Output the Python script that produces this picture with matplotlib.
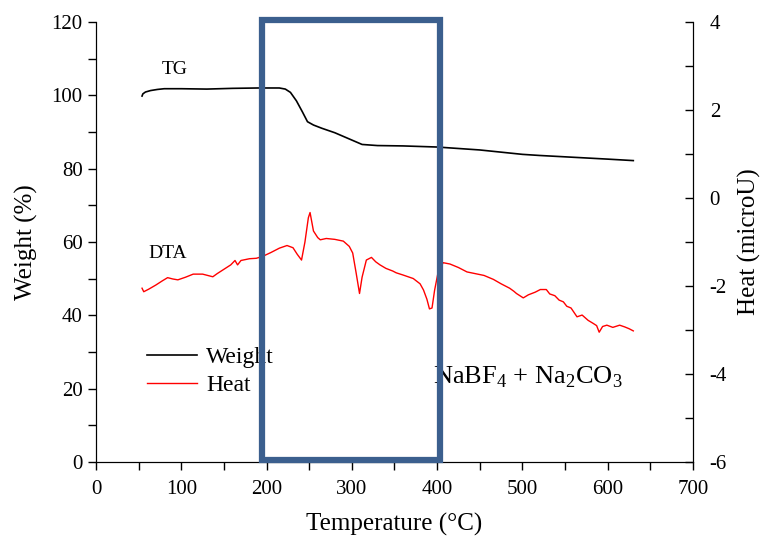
import numpy as np
import matplotlib
matplotlib.use("Agg")
import matplotlib.pyplot as plt
from matplotlib.patches import Rectangle
from matplotlib.ticker import MultipleLocator

plt.rcParams['font.family'] = ['Liberation Serif', 'DejaVu Serif']
plt.rcParams['mathtext.fontset'] = 'custom'
plt.rcParams['mathtext.rm'] = 'Liberation Serif'
plt.rcParams['axes.unicode_minus'] = False

# TG curve (weight %)
temp_tg = [54, 55, 58, 64, 72, 80, 100, 130, 160, 190, 215, 222, 228, 235, 242,
           248, 255, 265, 280, 300, 312, 330, 360, 400, 450, 500, 520, 560, 600, 630]
weight = [99.8, 100.4, 100.9, 101.3, 101.6, 101.8, 101.8, 101.7, 101.9, 102.0, 102.0, 101.7,
          100.8, 98.5, 95.5, 92.8, 91.9, 91.0, 89.8, 87.8, 86.6, 86.3, 86.2, 85.9,
          85.1, 83.9, 83.6, 83.1, 82.6, 82.2]

# DTA curve (heat, microU)
temp_dta = [54, 56, 62, 70, 78, 84, 90, 96, 105, 114,
            125, 137, 142, 150, 158, 163, 166, 170, 180, 188,
            195, 205, 215, 224, 231, 236, 241, 245, 249, 251,
            255, 260, 263, 270, 280, 290, 297, 301, 305, 309,
            312, 317, 323, 328, 333, 340, 348, 352, 360, 372,
            380, 384, 388, 391, 394, 397, 401, 407, 415, 425,
            435, 445, 455, 466, 475, 485, 490, 493, 497, 501,
            507, 515, 521, 528, 532, 538, 543, 548, 552, 557,
            564, 570, 577, 583, 587, 590, 594, 599, 606, 614,
            620, 625, 630]
heat = [-2.05, -2.13, -2.07, -1.98, -1.88, -1.81, -1.84, -1.86, -1.80, -1.73,
        -1.73, -1.79, -1.72, -1.62, -1.52, -1.42, -1.52, -1.42, -1.38, -1.37,
        -1.33, -1.24, -1.14, -1.08, -1.13, -1.28, -1.41, -1.00, -0.45, -0.33,
        -0.75, -0.90, -0.95, -0.92, -0.94, -0.98, -1.10, -1.25, -1.70, -2.17,
        -1.80, -1.41, -1.35, -1.45, -1.52, -1.60, -1.66, -1.70, -1.75, -1.83,
        -1.95, -2.09, -2.30, -2.52, -2.50, -2.10, -1.70, -1.47, -1.50, -1.58,
        -1.68, -1.72, -1.76, -1.85, -1.95, -2.05, -2.12, -2.17, -2.22, -2.27,
        -2.20, -2.14, -2.08, -2.08, -2.18, -2.22, -2.32, -2.36, -2.46, -2.50,
        -2.70, -2.66, -2.78, -2.85, -2.90, -3.05, -2.92, -2.89, -2.94, -2.89,
        -2.93, -2.97, -3.02]

fig = plt.figure(figsize=(7.66, 5.36), dpi=100)
ax = fig.add_axes([0.1253, 0.138, 0.7794, 0.821])
ax2 = ax.twinx()

l1, = ax.plot(temp_tg, weight, color='black', lw=1.2)
l2, = ax2.plot(temp_dta, heat, color='red', lw=1.0)

ax.set_xlim(0, 700)
ax.set_ylim(0, 120)
ax2.set_ylim(-6, 4)

ax.xaxis.set_major_locator(MultipleLocator(100))
ax.xaxis.set_minor_locator(MultipleLocator(50))
ax.yaxis.set_major_locator(MultipleLocator(20))
ax.yaxis.set_minor_locator(MultipleLocator(10))
ax2.yaxis.set_major_locator(MultipleLocator(2))
ax2.yaxis.set_minor_locator(MultipleLocator(1))

for a in (ax, ax2):
    a.spines['top'].set_visible(False)
ax.tick_params(axis='both', which='both', direction='out', length=6, width=1, labelsize=15)
ax.tick_params(axis='x', pad=7)
ax2.tick_params(axis='y', which='both', direction='in', length=6, width=1, labelsize=15, pad=12)

ax.set_xlabel('Temperature (°C)', fontsize=18, labelpad=10)
ax.set_ylabel('Weight (%)', fontsize=18, labelpad=10)
ax2.set_ylabel('Heat (microU)', fontsize=18, labelpad=8)

ax.text(77, 107, 'TG', fontsize=14, va='center')
ax.text(61, 57, 'DTA', fontsize=14, va='center')
ax.text(395, 23, r'NaBF$_4$ + Na$_2$CO$_3$', fontsize=19, va='center')

ax2.legend([l1, l2], ['Weight', 'Heat'], loc='upper left', bbox_to_anchor=(0.05, 0.31),
           frameon=False, fontsize=17, handlelength=2.1, handletextpad=0.4, labelspacing=0.25)

box = Rectangle((195, 0.5), 208, 120, transform=ax.transData, fill=False,
                edgecolor='#3b5f8e', lw=4.5, clip_on=False, zorder=10)
ax2.add_patch(box)

fig.savefig('out.png', dpi=100)
